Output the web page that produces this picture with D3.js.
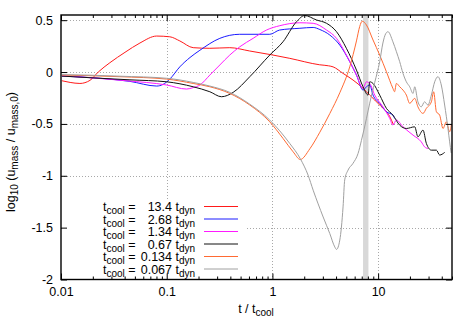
<!DOCTYPE html>
<html><head><meta charset="utf-8">
<script src="https://cdn.jsdelivr.net/npm/d3@7"></script>
<style>
html,body{margin:0;padding:0;background:#fff;}
svg{display:block;font-family:"Liberation Sans",Arial,sans-serif;}
</style></head><body>
<svg id="c" width="475" height="332"></svg>
<script>
// ---- data ----
const legendNums = ["13.4", "2.68", "1.34", "0.67", "0.134", "0.067"];
const colors = ["#ff1a1a", "#1a1aff", "#ff1aff", "#111111", "#ff6a33", "#a0a0a0"];
const xTicks = [0.01, 0.1, 1, 10];
const xTickLabels = ["0.01", "0.1", "1", "10"];
const yTicks = [0.5, 0, -0.5, -1, -1.5, -2];
const yTickLabels = ["0.5", "0", "-0.5", "-1", "-1.5", "-2"];
const band = [7.2, 8.1];

const s134 = [[0.0102,-0.084],[0.0122,-0.10],[0.0151,-0.11],[0.0188,-0.08],[0.0225,0.0],[0.029,0.09],[0.0403,0.19],[0.0558,0.28],[0.0804,0.347],[0.107,0.34],[0.133,0.30],[0.178,0.235],[0.256,0.229],[0.395,0.235],[0.61,0.203],[1.01,0.164],[1.46,0.132],[2.8,0.07],[3.4,0.06],[3.75,0.05],[4.66,-0.013],[5.79,-0.077],[7.2,-0.157],[8.32,-0.222],[10.35,-0.318],[12.9,-0.43],[14.0,-0.51]];
const s268 = [[0.0102,-0.039],[0.0234,-0.06],[0.0449,-0.09],[0.0804,-0.135],[0.092,-0.12],[0.107,-0.068],[0.133,0.05],[0.166,0.14],[0.206,0.21],[0.318,0.325],[0.49,0.364],[0.944,0.364],[1.17,0.405],[1.82,0.422],[2.43,0.43],[2.81,0.41],[3.49,0.357],[4.34,0.26],[5.39,0.10],[6.24,-0.029],[7.2,-0.174],[7.75,-0.142],[8.33,-0.125],[8.95,-0.222],[10.35,-0.30],[11.98,-0.383],[13.8,-0.415],[14.3,-0.447]];
const s134b = [[0.0102,-0.035],[0.0418,-0.084],[0.1,-0.125],[0.154,-0.164],[0.178,-0.15],[0.206,-0.125],[0.256,-0.029],[0.318,0.068],[0.395,0.164],[0.492,0.244],[0.657,0.325],[0.879,0.405],[1.175,0.447],[1.815,0.475],[2.43,0.47],[3.25,0.405],[4.04,0.325],[5.01,0.164],[6.24,-0.029],[7.2,-0.157],[7.75,-0.094],[8.33,-0.11],[9.29,-0.222],[11.1,-0.335],[12.88,-0.447],[13.8,-0.51],[14.9,-0.463],[17.2,-0.528],[21.4,-0.608],[25.6,-0.673],[27.5,-0.721],[29.6,-0.737]];
const s067 = [[0.0102,-0.039],[0.0234,-0.06],[0.0449,-0.075],[0.1,-0.094],[0.178,-0.142],[0.256,-0.19],[0.330,-0.238],[0.425,-0.196],[0.611,-0.045],[0.944,0.164],[1.26,0.292],[1.69,0.485],[2.02,0.545],[2.61,0.502],[3.25,0.47],[4.04,0.389],[5.01,0.229],[6.24,0.019],[7.2,-0.142],[8.03,-0.222],[8.33,-0.094],[8.95,-0.11],[10.35,-0.222],[11.98,-0.35],[13.8,-0.415],[16.0,-0.512],[18.5,-0.544],[22.2,-0.528],[23.8,-0.624],[26.6,-0.56],[28.6,-0.688],[31.9,-0.753],[35.6,-0.753],[38.2,-0.80],[42.6,-0.775]];
const s0134 = [[0.0102,-0.029],[0.0188,-0.035],[0.0361,-0.045],[0.1,-0.068],[0.178,-0.11],[0.256,-0.142],[0.395,-0.206],[0.611,-0.318],[0.944,-0.48],[1.26,-0.64],[1.57,-0.769],[1.835,-0.843],[2.26,-0.74],[2.81,-0.58],[3.49,-0.40],[4.34,-0.20],[5.39,0.05],[6.24,0.30],[6.70,0.44],[7.07,0.49],[7.75,0.454],[8.95,0.309],[10.35,0.164],[11.98,0.003],[13.8,-0.157],[14.3,-0.19],[14.9,-0.11],[16.0,-0.142],[17.2,-0.174],[18.5,-0.222],[19.9,-0.302],[22.2,-0.254],[23.8,-0.335],[26.6,-0.399],[28.6,-0.35],[31.9,-0.287],[33.5,-0.19],[35.6,-0.383],[38.2,-0.415],[41.1,-0.544],[44.2,-0.48],[47.5,-0.576],[49.3,-0.51]];
const s0067 = [[0.0102,-0.025],[0.0188,-0.03],[0.0361,-0.04],[0.1,-0.06],[0.178,-0.1],[0.256,-0.135],[0.395,-0.196],[0.611,-0.31],[0.944,-0.463],[1.46,-0.689],[1.835,-0.835],[2.175,-0.994],[2.43,-1.139],[3.02,-1.397],[3.49,-1.557],[3.89,-1.686],[4.04,-1.71],[4.34,-1.62],[4.66,-1.30],[4.83,-1.04],[5.19,-0.946],[5.79,-0.88],[6.46,-0.785],[6.95,-0.66],[7.75,-0.45],[8.33,-0.30],[9.29,-0.10],[10.35,0.10],[11.1,0.28],[11.8,0.37],[12.4,0.389],[13.8,0.292],[14.9,0.196],[16.0,0.1],[17.2,-0.013],[18.5,-0.094],[19.9,-0.142],[21.4,-0.206],[22.2,-0.142],[23.8,-0.287],[25.6,-0.335],[27.5,-0.287],[29.6,-0.318],[31.9,-0.222],[34.3,-0.094],[36.8,-0.045],[39.6,-0.125],[42.6,-0.318],[45.8,-0.544],[47.5,-0.673],[49.1,-0.78]];
const seriesList = [s134, s268, s134b, s067, s0134, s0067];

// ---- layout ----
const L = 61, R = 452, T = 15, B = 279.5;
const svg = d3.select("#c");
const x = d3.scaleLog().domain([0.01, 50]).range([L, R]);
const y = d3.scaleLinear().domain([-2, 0.55]).range([B, T]);

// grid
const g = svg.append("g");
yTicks.filter(v => v > -2).forEach(v => {
  g.append("line").attr("x1", L).attr("x2", R).attr("y1", Math.round(y(v)) + 0.5).attr("y2", Math.round(y(v)) + 0.5)
    .attr("stroke", "#a8a8a8").attr("stroke-dasharray", "1,2").attr("stroke-width", 1);
});
xTicks.filter(v => v > 0.01).forEach(v => {
  g.append("line").attr("y1", T).attr("y2", B).attr("x1", Math.round(x(v)) + 0.5).attr("x2", Math.round(x(v)) + 0.5)
    .attr("stroke", "#a8a8a8").attr("stroke-dasharray", "1,2").attr("stroke-width", 1);
});

// band
svg.append("rect").attr("x", x(band[0])).attr("width", x(band[1]) - x(band[0]))
  .attr("y", T).attr("height", B - T).attr("fill", "#d8d8d8");

// lines
const line = d3.line().x(d => x(d[0])).y(d => y(d[1])).curve(d3.curveMonotoneX);
seriesList.forEach((s, i) => {
  svg.append("path").datum(s).attr("d", line).attr("fill", "none")
    .attr("stroke", colors[i]).attr("stroke-width", 1);
});

// legend
const lg = svg.append("g");
lg.append("rect").attr("x", L + 1).attr("y", 199).attr("width", 183).attr("height", B - 199 - 1).attr("fill", "#fff");
legendNums.forEach((n, i) => {
  const yy = 206.5 + 12.5 * i;
  const t1 = lg.append("text").attr("x", 103).attr("y", yy + 4.5).attr("font-size", 12.5);
  t1.append("tspan").text("t");
  t1.append("tspan").attr("dy", 3).attr("font-size", 10).text("cool");
  t1.append("tspan").attr("dy", -3).text("\u00a0=");
  lg.append("text").attr("x", 172).attr("y", yy + 4.5).attr("font-size", 12.5).attr("text-anchor", "end").text(n);
  const t2 = lg.append("text").attr("x", 175.5).attr("y", yy + 4.5).attr("font-size", 12.5);
  t2.append("tspan").text("t");
  t2.append("tspan").attr("dy", 3).attr("font-size", 10).text("dyn");
  lg.append("line").attr("x1", 204).attr("x2", 238).attr("y1", yy).attr("y2", yy)
    .attr("stroke", colors[i]).attr("stroke-width", 1);
});

// axes
const minor = [];
for (let d = 0.01; d < 50; d *= 10) for (let k = 2; k <= 9; k++) { const v = d * k; if (v <= 50) minor.push(v); }
const fmtX = d => xTickLabels[xTicks.indexOf(d)];
const fmtY = d => yTickLabels[yTicks.indexOf(d)];
function styleAxis(sel) { sel.select(".domain").remove(); sel.selectAll("text").attr("font-size", 12.5).attr("font-family", "Liberation Sans, Arial, sans-serif").attr("fill", "#000"); sel.selectAll("line").attr("stroke", "#000"); }
svg.append("g").attr("transform", `translate(0,${B})`).call(d3.axisBottom(x).tickValues(xTicks).tickFormat(fmtX).tickSize(-6).tickPadding(8)).call(styleAxis);
svg.append("g").attr("transform", `translate(0,${B})`).call(d3.axisBottom(x).tickValues(minor).tickFormat("").tickSize(-3)).call(styleAxis);
svg.append("g").attr("transform", `translate(0,${T})`).call(d3.axisTop(x).tickValues(xTicks).tickFormat("").tickSize(-6)).call(styleAxis);
svg.append("g").attr("transform", `translate(0,${T})`).call(d3.axisTop(x).tickValues(minor).tickFormat("").tickSize(-3)).call(styleAxis);
svg.append("g").attr("transform", `translate(${L},0)`).call(d3.axisLeft(y).tickValues(yTicks).tickFormat(fmtY).tickSize(-6).tickPadding(8)).call(styleAxis);
svg.append("g").attr("transform", `translate(${R},0)`).call(d3.axisRight(y).tickValues(yTicks).tickFormat("").tickSize(-6)).call(styleAxis);

// frame
svg.append("rect").attr("x", L).attr("y", T).attr("width", R - L).attr("height", B - T)
  .attr("fill", "none").attr("stroke", "#000").attr("stroke-width", 1.4);

// axis titles
const xl = svg.append("text").attr("x", 256).attr("y", 313).attr("text-anchor", "middle").attr("font-size", 12.5);
xl.append("tspan").text("t / t");
xl.append("tspan").attr("dy", 3).attr("font-size", 10).text("cool");
const yl = svg.append("text").attr("transform", "translate(15,152) rotate(-90)").attr("text-anchor", "middle").attr("font-size", 12.5);
yl.append("tspan").text("log");
yl.append("tspan").attr("dy", 3).attr("font-size", 10).text("10");
yl.append("tspan").attr("dy", -3).text("\u00a0(u");
yl.append("tspan").attr("dy", 3).attr("font-size", 10).text("mass");
yl.append("tspan").attr("dy", -3).text("\u00a0/ u");
yl.append("tspan").attr("dy", 3).attr("font-size", 10).text("mass,0");
yl.append("tspan").attr("dy", -3).text(")");
</script>
</body></html>
